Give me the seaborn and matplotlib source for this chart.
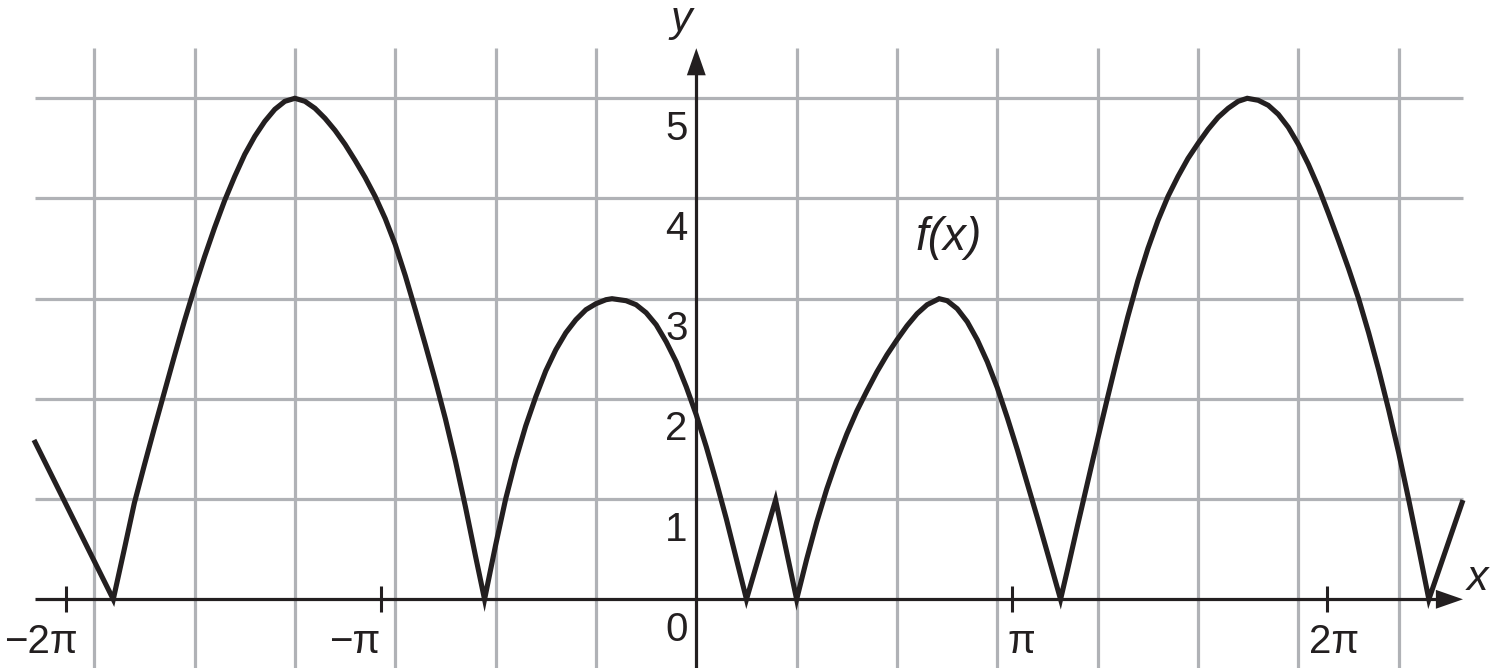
import numpy as np
import pandas as pd
import seaborn as sns
from matplotlib import pyplot as plt

# f(x) (x in grid units, y values), one row per arc
curve_x = [-6.60,
           -5.81, -5.70, -5.60, -5.50, -5.40, -5.30, -5.20, -5.10, -5.00, -4.90,
           -4.80, -4.70, -4.60, -4.50, -4.40, -4.30, -4.20, -4.10, -4.00,
           -3.90, -3.80, -3.70, -3.60, -3.50, -3.40, -3.30, -3.20, -3.10, -3.00,
           -2.90, -2.80, -2.70, -2.60, -2.50, -2.40, -2.30, -2.20, -2.11,
           -2.00, -1.90, -1.80, -1.70, -1.60, -1.50, -1.40, -1.30, -1.20, -1.10,
           -1.00, -0.90, -0.84,
           -0.70, -0.60, -0.50, -0.40, -0.30, -0.20, -0.10, 0.00, 0.10, 0.20,
           0.30, 0.40, 0.50,
           0.79, 1.00,
           1.10, 1.20, 1.30, 1.40, 1.50, 1.60, 1.70, 1.80, 1.90, 2.00,
           2.10, 2.20, 2.30, 2.42,
           2.50, 2.60, 2.70, 2.80, 2.90, 3.00, 3.10, 3.20, 3.30, 3.40, 3.50, 3.63,
           3.70, 3.80, 3.90, 4.00, 4.10, 4.20, 4.30, 4.40, 4.50, 4.60,
           4.70, 4.80, 4.90, 5.00, 5.10, 5.20, 5.30, 5.40, 5.49,
           5.60, 5.70, 5.80, 5.90, 6.00, 6.10, 6.20, 6.30, 6.40, 6.50,
           6.60, 6.70, 6.80, 6.90, 7.00, 7.10, 7.20, 7.30,
           7.64]
curve_y = [1.59,
           0.00, 0.50, 0.96, 1.34, 1.71, 2.07, 2.43, 2.78, 3.11, 3.42,
           3.71, 3.98, 4.22, 4.44, 4.62, 4.77, 4.89, 4.97, 5.00,
           4.97, 4.90, 4.80, 4.68, 4.54, 4.38, 4.21, 4.02, 3.80, 3.54,
           3.23, 2.89, 2.54, 2.18, 1.80, 1.38, 0.92, 0.43, 0.00,
           0.54, 1.00, 1.39, 1.73, 2.02, 2.28, 2.49, 2.66, 2.79, 2.89,
           2.95, 2.99, 3.00,
           2.98, 2.94, 2.86, 2.74, 2.57, 2.37, 2.12, 1.84, 1.52, 1.17,
           0.80, 0.40, 0.00,
           0.99, 0.00,
           0.40, 0.77, 1.10, 1.39, 1.65, 1.88, 2.08, 2.27, 2.44, 2.59,
           2.73, 2.85, 2.94, 3.00,
           2.98, 2.90, 2.77, 2.59, 2.37, 2.11, 1.81, 1.49, 1.15, 0.81, 0.46, 0.00,
           0.30, 0.74, 1.17, 1.60, 2.02, 2.43, 2.82, 3.18, 3.50, 3.78,
           4.02, 4.22, 4.40, 4.55, 4.69, 4.81, 4.90, 4.97, 5.00,
           4.98, 4.93, 4.84, 4.71, 4.54, 4.34, 4.11, 3.85, 3.58, 3.30,
           3.00, 2.66, 2.29, 1.89, 1.46, 0.99, 0.50, 0.00,
           0.99]

grid_x = [-6, -5, -4, -3, -2, -1, 1, 2, 3, 4, 5, 6, 7]
grid_y = [1, 2, 3, 4, 5]
y_tick_vals = [0, 1, 2, 3, 4, 5]
y_tick_labels = ['0', '1', '2', '3', '4', '5']
pi_ticks = [-2 * np.pi, -np.pi, np.pi, 2 * np.pi]
pi_labels = ['\u22122\u03c0', '\u2212\u03c0', '\u03c0', '2\u03c0']
pi_label_shift = [-0.25, -0.26, 0.10, 0.07]

x_min, x_max = -6.59, 7.64
y_min, y_max = -0.69, 5.50

ink = '#231f20'
grid_col = '#b0b2b6'

sns.set_style('white')
plt.rcParams['font.family'] = ['Liberation Sans', 'DejaVu Sans']
plt.rcParams['lines.solid_joinstyle'] = 'miter'
plt.rcParams['lines.solid_capstyle'] = 'butt'

fig = plt.figure(figsize=(14.94, 6.68), dpi=100)
ax = fig.add_axes([0, 0, 1, 1])
ax.set_xlim(-696.3 / 100.35, (1494 - 696.3) / 100.35)
ax.set_ylim((599.3 - 668) / 100.2, 599.3 / 100.2)
ax.set_axis_off()

# grid
ax.vlines(grid_x, y_min, y_max, colors=grid_col, lw=2.3, zorder=1)
ax.hlines(grid_y, x_min, x_max, colors=grid_col, lw=2.3, zorder=1)

# axes with arrow heads
ax.plot([x_min, x_max - 0.2], [0, 0], color=ink, lw=2.3, zorder=2)
ax.plot([0, 0], [y_min, y_max - 0.2], color=ink, lw=2.3, zorder=2)
head = dict(arrowstyle='-|>,head_length=19.5,head_width=6.8', mutation_scale=1,
            lw=0, color=ink, shrinkA=0, shrinkB=0)
ax.annotate('', xy=(x_max, 0), xytext=(x_max - 1, 0), arrowprops=head, zorder=2)
ax.annotate('', xy=(0, y_max), xytext=(0, y_max - 1), arrowprops=head, zorder=2)

# pi ticks
ax.vlines(pi_ticks, -0.13, 0.13, colors=ink, lw=2.2, zorder=2)
for t, lab, s in zip(pi_ticks, pi_labels, pi_label_shift):
    ax.text(t + s, -0.536, lab, ha='center', va='baseline', fontsize=29, color=ink, zorder=2.5)

for v, lab in zip(y_tick_vals, y_tick_labels):
    ax.text(-0.085, v - 0.415, lab, ha='right', va='baseline', fontsize=29, color=ink, zorder=2.5)

# the function
sns.lineplot(x=curve_x, y=curve_y, sort=False, estimator=None, ax=ax,
             color=ink, lw=3.7, zorder=3)

ax.text(-0.15, 5.67, 'y', ha='center', va='baseline', fontsize=31, style='italic', color=ink)
ax.text(7.78, 0.093, 'x', ha='center', va='baseline', fontsize=31, style='italic', color=ink)
ax.text(2.18, 3.486, 'f(x)', ha='left', va='baseline', fontsize=33, style='italic', color=ink)

fig.savefig('out.png', dpi=100)
